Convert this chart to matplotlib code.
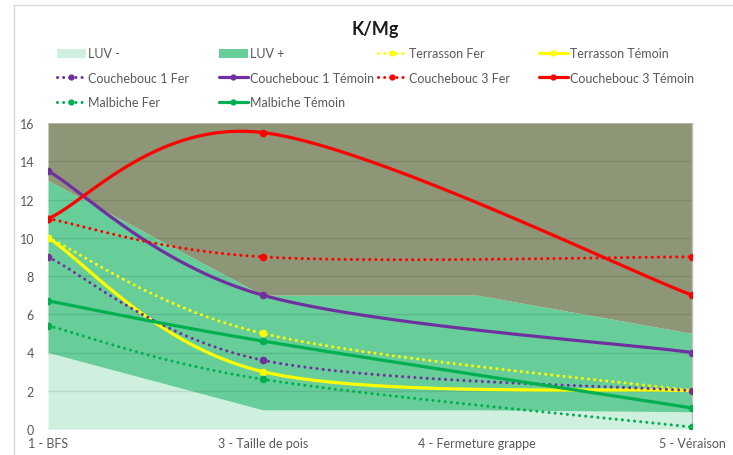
import numpy as np
import matplotlib.pyplot as plt
from matplotlib.patches import Patch
from matplotlib.lines import Line2D

plt.rcParams['font.family'] = ['Lato', 'DejaVu Sans']

# data
stages = ["1 - BFS", "3 - Taille de pois", "4 - Fermeture grappe", "5 - Véraison"]
luv_minus = [4, 1, 1, 0.9]
luv_plus = [9, 6, 6, 4.1]      # stacked on top of LUV -
y_top = 16

terrasson_fer = [10, 5, np.nan, 2]
terrasson_temoin = [10, 3, np.nan, 2]
couchebouc1_fer = [9, 3.6, np.nan, 2]
couchebouc1_temoin = [13.5, 7, np.nan, 4]
couchebouc3_fer = [11, 9, np.nan, 9]
couchebouc3_temoin = [11, 15.5, np.nan, 7]
malbiche_fer = [5.4, 2.6, np.nan, 0.1]
malbiche_temoin = [6.7, 4.6, np.nan, 1.1]

YELLOW = "#FFFF00"
PURPLE = "#7030A0"
RED = "#FF0000"
GREEN = "#00B050"
TXT = "#595959"

series = [
    ("Terrasson Fer", terrasson_fer, YELLOW, True),
    ("Terrasson Témoin", terrasson_temoin, YELLOW, False),
    ("Couchebouc 1 Fer", couchebouc1_fer, PURPLE, True),
    ("Couchebouc 1 Témoin", couchebouc1_temoin, PURPLE, False),
    ("Couchebouc 3 Fer", couchebouc3_fer, RED, True),
    ("Couchebouc 3 Témoin", couchebouc3_temoin, RED, False),
    ("Malbiche Fer", malbiche_fer, GREEN, True),
    ("Malbiche Témoin", malbiche_temoin, GREEN, False),
]


def smooth(y, n=60):
    # excel-like smoothed line (bezier through the points, gaps skipped)
    y = np.asarray(y, float)
    x = np.arange(len(y), dtype=float)
    ok = ~np.isnan(y)
    p = np.column_stack([x[ok], y[ok]])
    t = np.linspace(0, 1, n)[:, None]
    segs = []
    for i in range(len(p) - 1):
        p0 = p[max(i - 1, 0)]
        p1 = p[i]
        p2 = p[i + 1]
        p3 = p[min(i + 2, len(p) - 1)]
        c1 = p1 + (p2 - p0) / 6
        c2 = p2 - (p3 - p1) / 6
        segs.append((1 - t) ** 3 * p1 + 3 * (1 - t) ** 2 * t * c1
                    + 3 * (1 - t) * t ** 2 * c2 + t ** 3 * p2)
    curve = np.vstack(segs)
    return curve[:, 0], curve[:, 1], p


def line_style(color, dotted):
    if dotted:
        return dict(color=color, lw=2.2, linestyle=(0, (0.01, 2.0)),
                    dash_capstyle="round")
    return dict(color=color, lw=2.3, solid_capstyle="round")


W, H = 733, 456
fig = plt.figure(figsize=(W / 100, H / 100), dpi=100)
ax = fig.add_axes([48 / W, 1 - 430 / H, (692 - 48) / W, (430 - 124) / H])

x = np.arange(len(stages))
low = np.array(luv_minus, float)
high = low + np.array(luv_plus, float)
ax.fill_between(x, 0, low, color="#CFF0DE", lw=0, zorder=1)
ax.fill_between(x, low, high, color="#67CE99", lw=0, zorder=1)
ax.fill_between(x, high, y_top, color="#8D9676", lw=0, zorder=1)

for v in range(0, 17, 2):
    ax.axhline(v, color="black", alpha=0.09, lw=1, zorder=1.5)

handles = []
for name, vals, color, dotted in series:
    xs, ys, pts = smooth(vals)
    ax.plot(xs, ys, zorder=3, **line_style(color, dotted))
    ax.plot(pts[:, 0], pts[:, 1], "o", color=color, ms=4.5, zorder=3.5)
    handles.append(Line2D([], [], marker="o", ms=3.5, **line_style(color, dotted)))

ax.set_xlim(0, 3)
ax.set_ylim(0, 16)
ax.set_yticks(range(0, 17, 2))
ax.set_xticks(x, stages)
ax.tick_params(length=0, colors=TXT, labelsize=9)
ax.tick_params(axis="y", pad=10)
ax.tick_params(axis="x", pad=6)
for s in ["top", "left", "bottom"]:
    ax.spines[s].set_visible(False)
ax.spines["right"].set_color("#BFBFBF")
ax.spines["right"].set_linewidth(1)

fig.text(375 / W, 1 - 29 / H, "K/Mg", ha="center", va="center",
         fontsize=13, fontweight="bold", color="#1a1a1a")

# chart border
fig.add_artist(Line2D([14 / W, 14 / W], [0, 1 - 6 / H], color="#D9D9D9", lw=1))
fig.add_artist(Line2D([14 / W, 1], [1 - 6 / H, 1 - 6 / H], color="#D9D9D9", lw=1))

patch_minus = Patch(color="#CFF0DE", lw=0)
patch_plus = Patch(color="#67CE99", lw=0)
columns = [
    (57, [patch_minus, handles[2], handles[6]], ["LUV -", series[2][0], series[6][0]]),
    (219, [patch_plus, handles[3], handles[7]], ["LUV +", series[3][0], series[7][0]]),
    (378, [handles[0], handles[4]], [series[0][0], series[4][0]]),
    (539, [handles[1], handles[5]], [series[1][0], series[5][0]]),
]
for cx, hs, ls in columns:
    leg = fig.legend(hs, ls, loc="upper left", bbox_to_anchor=(cx / W, 1 - 48.5 / H),
                     frameon=False, fontsize=9, handlelength=2.3, handletextpad=0.2,
                     labelspacing=0.98, borderpad=0, borderaxespad=0, handleheight=0.7)
    for t in leg.get_texts():
        t.set_color(TXT)

fig.savefig("out.png", dpi=100)
